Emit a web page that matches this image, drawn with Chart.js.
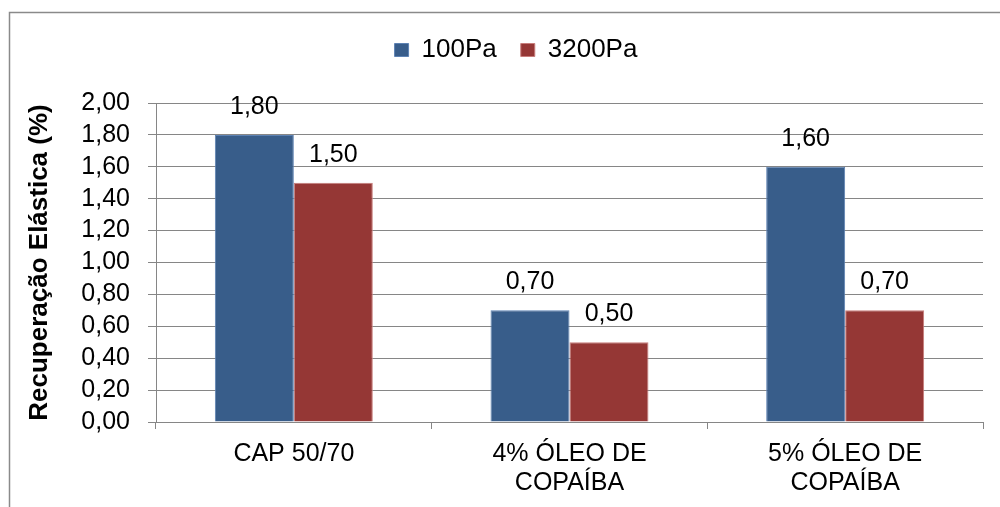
<!DOCTYPE html>
<html>
<head>
<meta charset="utf-8">
<script src="https://cdn.jsdelivr.net/npm/chart.js@4/dist/chart.umd.min.js"></script>
<style>
  html, body { margin: 0; padding: 0; background: #ffffff; }
  #wrap { width: 1000px; height: 507px; }
</style>
</head>
<body>
<div id="wrap"><canvas id="chart" width="1000" height="507"></canvas></div>
<script>
// Categories (multi-line labels as arrays)
const categories = [
  ['CAP 50/70'],
  ['4% ÓLEO DE', 'COPAÍBA'],
  ['5% ÓLEO DE', 'COPAÍBA']
];
const seriesNames = ['100Pa', '3200Pa'];
const values100Pa = [1.80, 0.70, 1.60];
const values3200Pa = [1.50, 0.50, 0.70];
const yTickValues = [0.00, 0.20, 0.40, 0.60, 0.80, 1.00, 1.20, 1.40, 1.60, 1.80, 2.00];
const yAxisTitle = 'Recuperação Elástica (%)';

const FONT = "'Liberation Sans', Arial, sans-serif";
const fmt = v => Number(v).toFixed(2).replace('.', ',');

Chart.defaults.font.family = FONT;
Chart.defaults.color = '#000000';

// White background and the outer frame line
const frame = {
  id: 'frame',
  beforeDraw(chart) {
    const ctx = chart.ctx;
    ctx.save();
    ctx.fillStyle = '#ffffff';
    ctx.fillRect(0, 0, chart.width, chart.height);
    ctx.strokeStyle = '#8a8a8a';
    ctx.lineWidth = 1.5;
    ctx.strokeRect(9.5, 12.5, chart.width + 20, chart.height + 20);
    ctx.restore();
  }
};

// Extra space under the legend and horizontal centring on the whole figure
const legendSpacing = {
  id: 'legendSpacing',
  beforeLayout(chart, args, opts) {
    const lg = chart.legend;
    if (lg && !lg._spaced) {
      const fit = lg.fit.bind(lg);
      lg.fit = function () { fit(); this.height += opts.extraHeight; };
      lg._spaced = true;
    }
  },
  afterLayout(chart, args, opts) {
    const lg = chart.legend;
    if (lg) { lg.left += opts.shiftX; lg.right += opts.shiftX; }
  }
};

// Value labels above each bar
const valueLabels = {
  id: 'valueLabels',
  afterDatasetsDraw(chart, args, opts) {
    const ctx = chart.ctx;
    ctx.save();
    ctx.font = opts.size + 'px ' + FONT;
    ctx.fillStyle = opts.color;
    ctx.textAlign = 'center';
    ctx.textBaseline = 'middle';
    chart.data.datasets.forEach((ds, i) => {
      chart.getDatasetMeta(i).data.forEach((bar, j) => {
        ctx.fillText(fmt(ds.data[j]), bar.x, bar.y - opts.offset);
      });
    });
    ctx.restore();
  }
};

new Chart(document.getElementById('chart'), {
  type: 'bar',
  data: {
    labels: categories,
    datasets: [
      {
        label: seriesNames[0],
        data: values100Pa,
        backgroundColor: '#385d8a',
        borderColor: '#5d82b3',
        borderWidth: 1
      },
      {
        label: seriesNames[1],
        data: values3200Pa,
        backgroundColor: '#953735',
        borderColor: '#c87d7b',
        borderWidth: 1
      }
    ]
  },
  options: {
    responsive: false,
    animation: false,
    devicePixelRatio: 1,
    barPercentage: 1,
    categoryPercentage: 0.573,
    layout: { padding: { top: 13, right: 17, bottom: 0, left: 0 } },
    plugins: {
      legend: {
        position: 'top',
        labels: {
          boxWidth: 14,
          boxHeight: 13,
          padding: 24,
          color: '#000000',
          font: { family: FONT, size: 26 }
        }
      },
      tooltip: { enabled: false },
      legendSpacing: { extraHeight: 30, shiftX: 24.5 },
      valueLabels: { size: 25, color: '#000000', offset: 28 }
    },
    scales: {
      x: {
        grid: {
          drawOnChartArea: false,
          drawTicks: true,
          tickLength: 7,
          color: '#868686',
          offset: true
        },
        border: { color: '#868686', width: 1 },
        ticks: {
          color: '#000000',
          font: { family: FONT, size: 25, lineHeight: 1.16 },
          padding: 11,
          maxRotation: 0,
          autoSkip: false
        },
        afterFit(scale) { scale.height = 85; }
      },
      y: {
        min: 0,
        max: 2,
        afterBuildTicks(scale) {
          scale.ticks = yTickValues.map(v => ({ value: v }));
        },
        ticks: {
          color: '#000000',
          font: { family: FONT, size: 25, lineHeight: 1 },
          padding: 18,
          autoSkip: false,
          callback: v => fmt(v)
        },
        grid: { color: '#868686', tickLength: 8 },
        border: { color: '#868686', width: 1 },
        title: {
          display: true,
          text: yAxisTitle,
          color: '#000000',
          font: { family: FONT, size: 26, weight: 'bold' },
          padding: { top: 24, bottom: 0 }
        },
        afterFit(scale) { scale.width = 156; }
      }
    }
  },
  plugins: [frame, legendSpacing, valueLabels]
});
</script>
</body>
</html>
